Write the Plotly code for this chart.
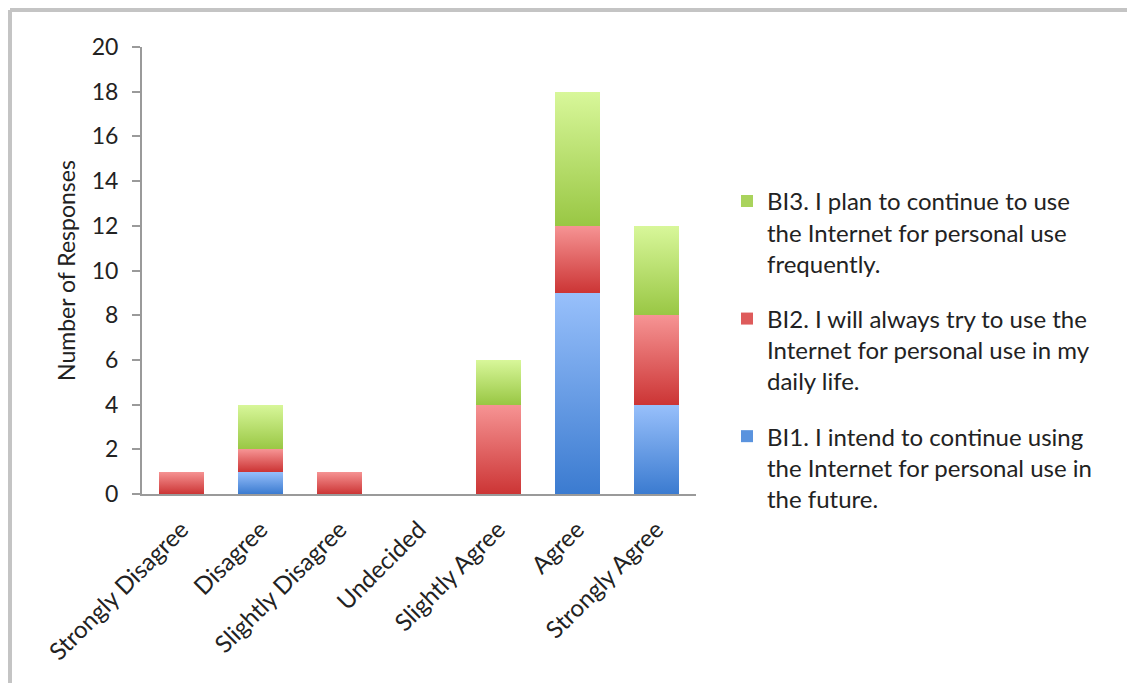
import plotly.graph_objects as go

# Survey responses per agreement level
categories = ["Strongly Disagree", "Disagree", "Slightly Disagree", "Undecided",
              "Slightly Agree", "Agree", "Strongly Agree"]
bi1_values = [0, 1, 0, 0, 0, 9, 4]
bi2_values = [1, 1, 1, 0, 4, 3, 4]
bi3_values = [0, 2, 0, 0, 2, 6, 4]
series_names = [
    "BI1. I intend to continue using<br>the Internet for personal use in<br>the future.",
    "BI2. I will always try to use the<br>Internet for personal use in my<br>daily life.",
    "BI3. I plan to continue to use<br>the Internet for personal use<br>frequently.",
]
y_ticks = list(range(0, 21, 2))

# Solid colours (legend swatches) and top/bottom gradient stops for the bars
solid = ["#5a93de", "#de5b5b", "#a9d35c"]
grad_stops = [("#98c0fb", "#3b7bd0"), ("#f69494", "#cc3535"), ("#d8f79a", "#99c744")]

W, H = 1127, 684
ML, MR, MT, MB = 142, 431, 47, 190
FONT = "Lato"

fig = go.Figure()
series = [bi1_values, bi2_values, bi3_values]
for i, (name, vals, col) in enumerate(zip(series_names, series, solid)):
    fig.add_trace(go.Bar(
        x=categories, y=vals, name=name, marker=dict(color=col, line=dict(width=0)),
        legendgroup="g%d" % i, legendrank=len(series) - i,
    ))

pw = W - ML - MR
ph = H - MT - MB
# light grey frame along the top and left edge of the chart area
fx0 = (10 - ML) / pw
fy1 = (H - MB - 10) / ph
fy0 = (H - MB - 683) / ph
fx1 = (W - ML) / pw
fig.add_shape(type="line", xref="paper", yref="paper", x0=fx0, x1=fx1, y0=fy1, y1=fy1,
              line=dict(color="#c4c4c4", width=4))
fig.add_shape(type="line", xref="paper", yref="paper", x0=fx0, x1=fx0, y0=fy0, y1=fy1,
              line=dict(color="#c4c4c4", width=4))

fig.update_layout(
    width=W, height=H,
    margin=dict(l=ML, r=MR, t=MT, b=MB),
    barmode="stack", bargap=0.43,
    plot_bgcolor="white", paper_bgcolor="white",
    font=dict(family=FONT, size=23, color="#222"),
    showlegend=True,
    legend=dict(
        x=(727 - ML) / pw, xanchor="left", y=0.705, yanchor="top",
        traceorder="grouped", tracegroupgap=21, valign="top",
        font=dict(family=FONT, size=24, color="#222"),
        itemwidth=30, bgcolor="rgba(0,0,0,0)",
    ),
    xaxis=dict(
        tickangle=-45, showgrid=False, showline=True, linecolor="#9a9a9a", linewidth=2,
        ticks="", tickfont=dict(size=24), range=[-0.5, 6.5],
        ticklabelstandoff=10,
    ),
    yaxis=dict(
        range=[0, 20], tickvals=y_ticks, showgrid=False, zeroline=False,
        showline=True, linecolor="#9a9a9a", linewidth=2,
        ticks="outside", ticklen=8, tickcolor="#9a9a9a", tickwidth=2,
        tickfont=dict(size=23), ticklabelstandoff=9,
        title=dict(text="Number of Responses", font=dict(size=23), standoff=10),
    ),
)

stops_js = ",".join("['%s','%s']" % s for s in grad_stops)
post = """
var gd = document.getElementById('{plot_id}');
var stops = [%s];
function applyGrad() {
  var svg = gd.querySelector('svg.main-svg');
  if (!svg) return;
  var ns = 'http://www.w3.org/2000/svg';
  var defs = svg.querySelector('defs#bar-grad-defs');
  if (!defs) {
    defs = document.createElementNS(ns, 'defs');
    defs.setAttribute('id', 'bar-grad-defs');
    svg.insertBefore(defs, svg.firstChild);
    stops.forEach(function (s, i) {
      var g = document.createElementNS(ns, 'linearGradient');
      g.setAttribute('id', 'bargrad' + i);
      g.setAttribute('x1', '0'); g.setAttribute('y1', '0');
      g.setAttribute('x2', '0'); g.setAttribute('y2', '1');
      [[0, s[0]], [1, s[1]]].forEach(function (st) {
        var e = document.createElementNS(ns, 'stop');
        e.setAttribute('offset', st[0]);
        e.setAttribute('stop-color', st[1]);
        g.appendChild(e);
      });
      defs.appendChild(g);
    });
  }
  var traces = gd.querySelectorAll('g.barlayer g.trace.bars');
  traces.forEach(function (tr, i) {
    tr.querySelectorAll('g.point path').forEach(function (p) {
      p.style.fill = 'url(#bargrad' + i + ')';
    });
  });
}
applyGrad();
gd.on('plotly_afterplot', applyGrad);
setTimeout(applyGrad, 200);
""" % stops_js

fig.write_html("out.html", post_script=post)
